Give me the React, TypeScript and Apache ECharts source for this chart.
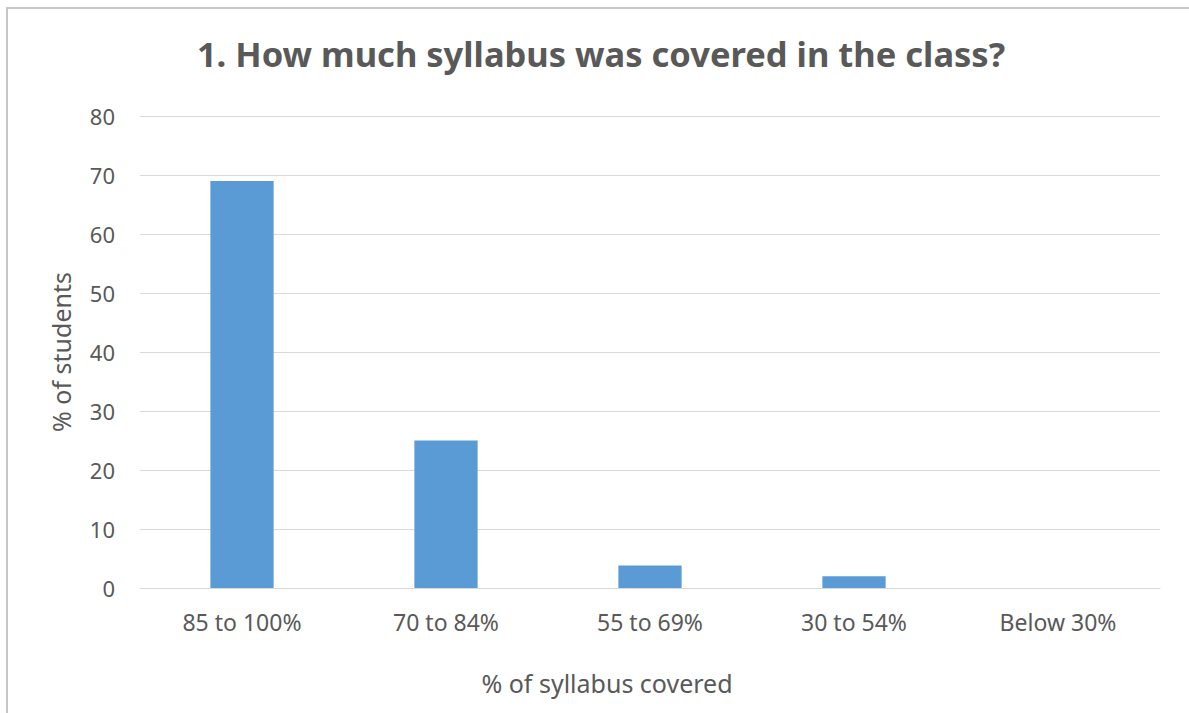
import React, { useEffect, useRef } from "react";
import * as echarts from "echarts";

const categories = ["85 to 100%", "70 to 84%", "55 to 69%", "30 to 54%", "Below 30%"];
const values = [69, 25, 3.8, 2, 0];
const titleText = "1. How much syllabus was covered in the class?";
const xName = "% of syllabus covered";
const yName = "% of students";

export default function App() {
  const ref = useRef<HTMLDivElement>(null);
  useEffect(() => {
    const chart = echarts.init(ref.current!, null, { renderer: "svg" });
    const font = "'Noto Sans', 'Open Sans', sans-serif";
    chart.setOption({
      animation: false,
      backgroundColor: "#ffffff",
      title: {
        text: titleText,
        left: 596,
        textAlign: "center",
        top: 31,
        textStyle: { fontFamily: font, fontSize: 34.5, fontWeight: "bold", color: "#595959" },
      },
      graphic: [
        {
          type: "polyline",
          shape: { points: [[7, 713], [7, 8], [1189, 8]] },
          style: { stroke: "#c6c6c6", lineWidth: 2, fill: "none" },
          silent: true,
        },
      ],
      grid: { left: 140, right: 29, top: 116, bottom: 125 },
      xAxis: {
        type: "category",
        data: categories,
        name: xName,
        nameLocation: "middle",
        nameGap: 82,
        nameTextStyle: {
          fontFamily: font,
          fontSize: 25,
          color: "#595959",
          padding: [0, 86, 0, 0],
        },
        axisLine: { show: true, lineStyle: { color: "#d9d9d9", width: 1 } },
        axisTick: { show: false },
        axisLabel: { fontFamily: font, fontSize: 23, color: "#595959", margin: 22 },
      },
      yAxis: {
        type: "value",
        min: 0,
        max: 80,
        interval: 10,
        name: yName,
        nameLocation: "middle",
        nameGap: 67,
        nameTextStyle: { fontFamily: font, fontSize: 25, color: "#595959" },
        axisLine: { show: false },
        axisTick: { show: false },
        axisLabel: { fontFamily: font, fontSize: 22, color: "#595959", margin: 25 },
        splitLine: { lineStyle: { color: "#d9d9d9", width: 1 } },
      },
      series: [
        {
          type: "bar",
          data: values,
          barWidth: "31%",
          itemStyle: { color: "#5b9bd5" },
        },
      ],
    });
    return () => chart.dispose();
  }, []);
  return (
    <div
      ref={ref}
      style={{ position: "absolute", left: 0, top: 0, width: 1189, height: 713 }}
    />
  );
}
